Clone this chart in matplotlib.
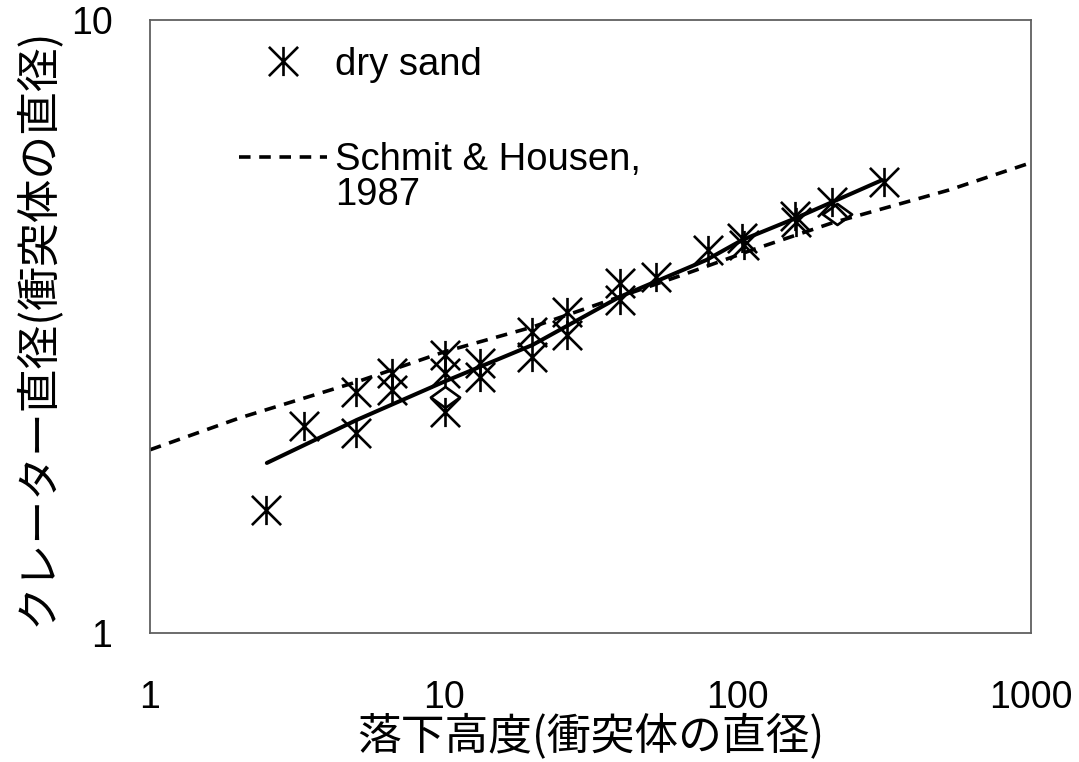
import matplotlib
matplotlib.use('Agg')
import matplotlib.pyplot as plt
from matplotlib.path import Path
from matplotlib.ticker import FixedLocator, FixedFormatter, NullLocator

plt.rcParams['font.family'] = ['Liberation Sans', 'Noto Sans CJK JP']

# dry sand measurements (drop height / crater diameter, both in impactor diameters)
sand_x = [2.48, 3.34, 5.02, 5.02, 6.66, 6.66, 10.08, 10.08, 10.08, 13.26, 13.26,
          19.92, 19.92, 26.4, 26.4, 40.0, 40.0, 53.0, 79.6, 104, 105.6,
          157.5, 158, 210, 316]
sand_y = [1.588, 2.177, 2.473, 2.121, 2.656, 2.491, 2.841, 2.656, 2.294, 2.757, 2.616,
          3.097, 2.820, 3.340, 3.063, 3.724, 3.494, 3.809, 4.216, 4.41, 4.30,
          4.79, 4.68, 5.05, 5.44]

# open diamond points
dia_x = [10.08, 219]
dia_y = [2.43, 4.83]

# fit through dry sand data (solid)
fit_x = [2.50, 5.06, 10.0, 20.07, 39.7, 78.5, 104, 158, 311]
fit_y = [1.894, 2.226, 2.568, 2.95, 3.533, 4.06, 4.377, 4.75, 5.48]

# Schmit & Housen 1987 (dashed)
sh_x = [1.0, 2.02, 5.06, 10.0, 20.07, 65.0, 112.4, 210, 526, 1000]
sh_y = [1.99, 2.243, 2.568, 2.873, 3.156, 3.837, 4.216, 4.665, 5.28, 5.85]

# asterisk: vertical bar + X
star = Path([(0, -0.5), (0, 0.5), (-0.5, -0.5), (0.5, 0.5), (-0.5, 0.5), (0.5, -0.5)],
            [Path.MOVETO, Path.LINETO, Path.MOVETO, Path.LINETO, Path.MOVETO, Path.LINETO])
diamond = Path([(-0.5, 0), (0, 0.36), (0.5, 0), (0, -0.36), (-0.5, 0)],
               [Path.MOVETO, Path.LINETO, Path.LINETO, Path.LINETO, Path.CLOSEPOLY])

fig = plt.figure(figsize=(10.79, 7.62), dpi=100)
ax = fig.add_axes([0.139, 0.1693, 0.8165, 0.8045])

ax.plot(sh_x, sh_y, color='black', linewidth=2.6, linestyle=(0, (3.2, 2.4)),
        label='Schmit & Housen,')
ax.plot(fit_x, fit_y, color='black', linewidth=2.9, solid_capstyle='round')
ax.plot(dia_x, dia_y, linestyle='none', marker=diamond, markersize=21,
        markerfacecolor='none', markeredgecolor='black', markeredgewidth=1.9)
ax.plot(sand_x, sand_y, linestyle='none', marker=star, markersize=21,
        markerfacecolor='none', markeredgecolor='black', markeredgewidth=1.9,
        label='dry sand')

ax.set_xscale('log')
ax.set_yscale('log')
ax.set_xlim(1, 1000)
ax.set_ylim(1, 10)

ax.xaxis.set_major_locator(FixedLocator([1, 10, 100, 1000]))
ax.xaxis.set_major_formatter(FixedFormatter(['1', '10', '100', '1000']))
ax.yaxis.set_major_locator(FixedLocator([1, 10]))
ax.yaxis.set_major_formatter(FixedFormatter(['1', '10']))
ax.xaxis.set_minor_locator(NullLocator())
ax.yaxis.set_minor_locator(NullLocator())
ax.tick_params(axis='x', length=0, pad=34, labelsize=27)
ax.tick_params(axis='y', length=0, pad=27, labelsize=27)

for s in ax.spines.values():
    s.set_color('#606060')
    s.set_linewidth(1.3)

ax.set_xlabel('落下高度(衝突体の直径)', fontsize=31.5,
              family=['Noto Sans CJK JP', 'DejaVu Sans'], labelpad=-2)
ax.set_ylabel('クレーター直径(衝突体の直径)', fontsize=31.5,
              family=['Noto Sans CJK JP', 'DejaVu Sans'], labelpad=8)

h, l = ax.get_legend_handles_labels()
leg = ax.legend([h[1], h[0]], [l[1], l[0]], loc='upper left',
                bbox_to_anchor=(0.069, 1.003), frameon=False, fontsize=27.5,
                handlelength=2.3, handletextpad=0.21, labelspacing=1.55,
                borderaxespad=0.35)

# second line of the Schmit & Housen label, placed under the legend entry
fig.canvas.draw()
bb = leg.get_texts()[1].get_window_extent()
x0, y0 = fig.transFigure.inverted().transform((bb.x0, bb.y0))
fig.text(x0, y0 + 0.001, '1987', fontsize=27.5, ha='left', va='top')

fig.savefig('out.png', dpi=100)
